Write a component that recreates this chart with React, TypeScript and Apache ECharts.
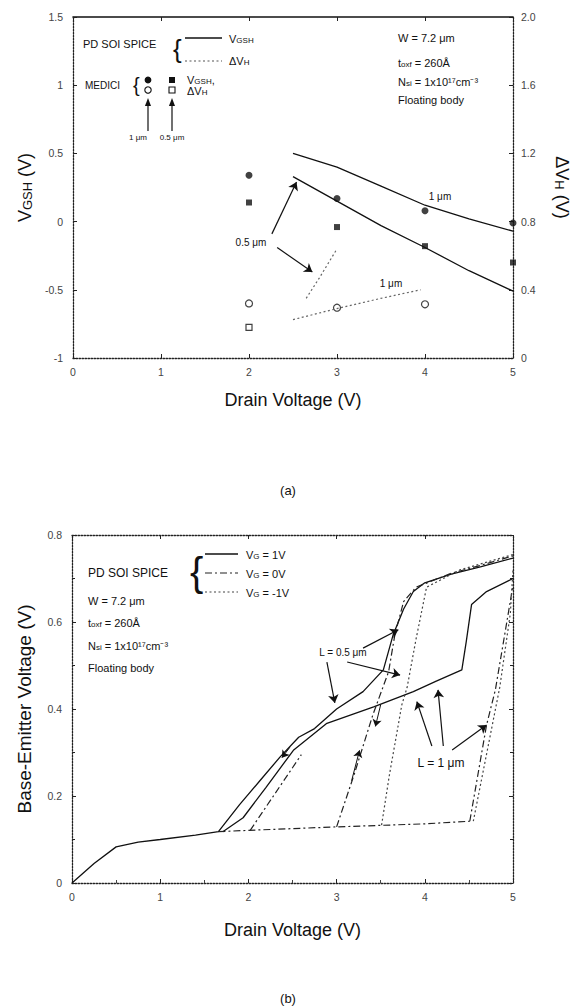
import React, { useEffect, useRef } from "react";
import * as echarts from "echarts";

const FONT = '"Liberation Sans", Arial, Helvetica, sans-serif';

// ---------------- (a) data ----------------
const drainTicks = [0, 1, 2, 3, 4, 5];
const vgshRange = [-1, 1.5];
const dvhRange = [0, 2.0];

// PD SOI SPICE, V_GSH (left axis)
const vgshSpice1um = [[2.5, 0.5], [3, 0.4], [3.5, 0.26], [4, 0.12], [4.5, 0.02], [5, -0.07]];
const vgshSpice05um = [[2.5, 0.33], [3, 0.15], [3.5, -0.03], [4, -0.19], [4.5, -0.36], [5, -0.51]];
// PD SOI SPICE, dV_H (right axis)
const dvhSpice1um = [[2.5, 0.225], [3, 0.29], [3.5, 0.35], [3.95, 0.4]];
const dvhSpice05um = [[2.65, 0.35], [2.8, 0.47], [3, 0.64]];
// MEDICI
const vgshMedici1um = [[2, 0.34], [3, 0.17], [4, 0.08], [5, -0.01]];
const vgshMedici05um = [[2, 0.14], [3, -0.04], [4, -0.18], [5, -0.3]];
const dvhMedici1um = [[2, 0.32], [3, 0.295], [4, 0.315]];
const dvhMedici05um = [[2, 0.18]];
// annotation arrows (data coords, left axis)
const arrowsA = [
  [[2.26, -0.09], [2.54, 0.29]],
  [[2.32, -0.19], [2.72, -0.37]],
];

// ---------------- (b) data ----------------
const vbeRange = [0, 0.8];
// V_G = 1V (solid)
const vbeVg1L05 = [[0, 0], [0.25, 0.045], [0.5, 0.083], [0.75, 0.094], [1, 0.1], [1.4, 0.11], [1.66, 0.118], [1.9, 0.18], [2.13, 0.235], [2.36, 0.29], [2.57, 0.335], [2.75, 0.355], [3, 0.4], [3.3, 0.44], [3.53, 0.49], [3.64, 0.57], [3.76, 0.63], [3.87, 0.67], [4, 0.69], [4.3, 0.71], [4.63, 0.727], [5, 0.747]];
const vbeVg1L1 = [[1.71, 0.118], [1.94, 0.15], [2.2, 0.22], [2.51, 0.305], [2.89, 0.367], [3.42, 0.405], [3.87, 0.44], [4.13, 0.464], [4.42, 0.49], [4.47, 0.555], [4.53, 0.64], [4.7, 0.67], [5, 0.7]];
// V_G = 0V (dash-dot)
const vbeVg0Low = [[1.66, 0.118], [2, 0.121], [3, 0.129], [4, 0.136], [4.51, 0.142]];
const vbeVg0L05 = [[3, 0.129], [3.2, 0.25], [3.41, 0.386], [3.59, 0.486], [3.66, 0.57], [3.76, 0.647], [3.9, 0.68], [4.3, 0.712], [4.63, 0.73], [5, 0.752]];
const vbeVg0L05Rev = [[2.02, 0.121], [2.2, 0.175], [2.4, 0.235], [2.6, 0.295]];
const vbeVg0L1 = [[4.51, 0.142], [4.7, 0.363], [4.8, 0.444], [4.93, 0.6], [5, 0.685]];
// V_G = -1V (dotted)
const vbeVgm1L05 = [[3.51, 0.133], [3.6, 0.25], [3.74, 0.41], [3.8, 0.45], [3.9, 0.56], [4.02, 0.68], [4.4, 0.72], [5, 0.755]];
const vbeVgm1L1 = [[4.55, 0.142], [4.85, 0.45], [4.97, 0.62], [5, 0.72]];
// annotation arrows (data coords)
const arrowsB = [
  [[3.3, 0.54], [3.7, 0.582]],
  [[3.12, 0.508], [3.72, 0.478]],
  [[2.89, 0.508], [2.98, 0.414]],
  [[4.08, 0.315], [3.91, 0.417]],
  [[4.21, 0.315], [4.15, 0.444]],
  [[4.31, 0.306], [4.7, 0.363]],
];
const sweepArrowsB = [
  [[2.47, 0.312], [2.38, 0.288]],
  [[3.17, 0.235], [3.26, 0.305]],
  [[3.5, 0.41], [3.44, 0.36]],
];

const solid = { type: "solid", width: 1.3, color: "#111" };
const dashDot = { type: [7, 3, 2, 3], width: 1.2, color: "#222" };
const dotted = { type: [2, 2.5], width: 1.2, color: "#444" };
const dotAxis = { type: [1.5, 1.5], width: 1.3, color: "#222" };

function arrowGraphic(x1: number, y1: number, x2: number, y2: number, head = 7) {
  const a = Math.atan2(y2 - y1, x2 - x1);
  const c = Math.cos(a), s = Math.sin(a);
  const w = head * 0.38;
  return {
    type: "group",
    children: [
      { type: "line", shape: { x1, y1, x2: x2 - c * head * 0.6, y2: y2 - s * head * 0.6 }, style: { stroke: "#111", lineWidth: 1.2 } },
      {
        type: "polygon",
        shape: { points: [[x2, y2], [x2 - c * head + s * w, y2 - s * head - c * w], [x2 - c * head - s * w, y2 - s * head + c * w]] },
        style: { fill: "#111" },
      },
    ],
  };
}

function txt(x: number, y: number, text: string, size = 11, align = "left", rich?: any) {
  return {
    type: "text",
    style: {
      x, y, text,
      font: `${size}px ${FONT}`,
      fill: "#111",
      textAlign: align,
      textVerticalAlign: "middle",
      rich,
    },
  };
}

const sub = (size: number) => ({
  n: { fontSize: size, fontFamily: FONT, color: "#111", verticalAlign: "bottom", lineHeight: size + 2 },
  s: { fontSize: Math.round(size * 0.7), fontFamily: FONT, color: "#111", verticalAlign: "bottom", lineHeight: size + 2 },
});

const tickLabel = { fontSize: 10.5, color: "#444", fontFamily: FONT };

export default function App() {
  const ref = useRef<HTMLDivElement>(null);
  useEffect(() => {
    if (!ref.current) return;
    const chart = echarts.init(ref.current, undefined, { renderer: "svg" });
    const xBase = (grid: number, top: boolean, minor: boolean, name?: string, gap?: number, solidLine?: boolean) => ({
      type: "value",
      gridIndex: grid,
      position: top ? "top" : "bottom",
      min: drainTicks[0],
      max: drainTicks[drainTicks.length - 1],
      interval: 1,
      name: name || "",
      nameLocation: "middle",
      nameGap: gap || 30,
      nameTextStyle: { fontSize: 18, fontFamily: FONT, color: "#111" },
      axisLine: { show: true, onZero: false, lineStyle: solidLine ? { type: "solid", width: 1.6, color: "#111" } : dotAxis },
      axisTick: { show: true, inside: true, length: 4, lineStyle: { color: "#222" } },
      minorTick: { show: minor, splitNumber: 2, length: 3, lineStyle: { color: "#444" } },
      axisLabel: { show: !top, margin: 8, ...tickLabel },
      splitLine: { show: false },
    });

    const option: any = {
      animation: false,
      backgroundColor: "#fff",
      grid: [
        { left: 73, top: 17, width: 440, height: 341 },
        { left: 72, top: 535, width: 441, height: 348 },
      ],
      xAxis: [
        xBase(0, false, false, "Drain Voltage (V)", 33),
        xBase(0, true, false, undefined, undefined, true),
        xBase(1, false, true, "Drain Voltage (V)", 38),
        xBase(1, true, false),
      ],
      yAxis: [
        {
          type: "value", gridIndex: 0, position: "left", min: vgshRange[0], max: vgshRange[1], interval: 0.5,
          name: "{n|V}{s|GSH}{n| (V)}", nameLocation: "middle", nameGap: 36,
          nameTextStyle: { rich: sub(18) },
          axisLine: { show: true, onZero: false, lineStyle: dotAxis },
          axisTick: { show: true, inside: true, length: 4 },
          axisLabel: { margin: 10, ...tickLabel },
          splitLine: { show: false },
        },
        {
          type: "value", gridIndex: 0, position: "right", min: dvhRange[0], max: dvhRange[1], interval: 0.4,
          name: "{n|ΔV}{s|H}{n| (V)}", nameLocation: "middle", nameGap: 40, nameRotate: -90,
          nameTextStyle: { rich: sub(18) },
          axisLine: { show: true, onZero: false, lineStyle: dotAxis },
          axisTick: { show: true, inside: true, length: 4 },
          axisLabel: { margin: 8, ...tickLabel, formatter: (v: number) => (v === 0 ? "0" : v.toFixed(1)) },
          splitLine: { show: false },
        },
        {
          type: "value", gridIndex: 1, position: "left", min: vbeRange[0], max: vbeRange[1], interval: 0.2,
          name: "Base-Emitter Voltage (V)", nameLocation: "middle", nameGap: 38,
          nameTextStyle: { fontSize: 19, fontFamily: FONT, color: "#111" },
          axisLine: { show: true, onZero: false, lineStyle: dotAxis },
          axisTick: { show: true, inside: true, length: 4 },
          minorTick: { show: true, splitNumber: 2, length: 3 },
          axisLabel: { margin: 10, ...tickLabel },
          splitLine: { show: false },
        },
        {
          type: "value", gridIndex: 1, position: "right", min: vbeRange[0], max: vbeRange[1], interval: 0.2,
          axisLine: { show: true, onZero: false, lineStyle: dotAxis },
          axisTick: { show: true, inside: true, length: 4 },
          minorTick: { show: true, splitNumber: 2, length: 3 },
          axisLabel: { show: false },
          splitLine: { show: false },
        },
      ],
      series: [
        // ---- (a) ----
        {
          type: "line", xAxisIndex: 0, yAxisIndex: 0, data: vgshSpice1um, showSymbol: false, lineStyle: solid, silent: true,
          markLine: {
            silent: true, symbol: ["none", "arrow"], symbolSize: 8, label: { show: false },
            lineStyle: { type: "solid", color: "#111", width: 1.2 },
            data: arrowsA.map(([p, q]) => [{ coord: p }, { coord: q }]),
          },
        },
        { type: "line", xAxisIndex: 0, yAxisIndex: 0, data: vgshSpice05um, showSymbol: false, lineStyle: solid, silent: true },
        { type: "line", xAxisIndex: 0, yAxisIndex: 1, data: dvhSpice1um, showSymbol: false, lineStyle: { ...dotted, color: "#666" }, silent: true },
        { type: "line", xAxisIndex: 0, yAxisIndex: 1, data: dvhSpice05um, showSymbol: false, lineStyle: { ...dotted, color: "#666" }, silent: true },
        { type: "scatter", xAxisIndex: 0, yAxisIndex: 0, data: vgshMedici1um, symbol: "circle", symbolSize: 7, itemStyle: { color: "#111" }, clip: false, silent: true },
        { type: "scatter", xAxisIndex: 0, yAxisIndex: 0, data: vgshMedici05um, symbol: "rect", symbolSize: 6, itemStyle: { color: "#111" }, clip: false, silent: true },
        { type: "scatter", xAxisIndex: 0, yAxisIndex: 1, data: dvhMedici1um, symbol: "circle", symbolSize: 7, itemStyle: { color: "#fff", borderColor: "#111", borderWidth: 1.2 }, clip: false, silent: true },
        { type: "scatter", xAxisIndex: 0, yAxisIndex: 1, data: dvhMedici05um, symbol: "rect", symbolSize: 6, itemStyle: { color: "#fff", borderColor: "#111", borderWidth: 1.2 }, clip: false, silent: true },
        // ---- (b) ----
        {
          type: "line", xAxisIndex: 2, yAxisIndex: 2, data: vbeVg1L05, showSymbol: false, lineStyle: solid, silent: true,
          markLine: {
            silent: true, symbol: ["none", "arrow"], symbolSize: 8, label: { show: false },
            lineStyle: { type: "solid", color: "#111", width: 1.2 },
            data: arrowsB.map(([p, q]) => [{ coord: p }, { coord: q }]),
          },
        },
        {
          type: "line", xAxisIndex: 2, yAxisIndex: 2, data: vbeVg1L1, showSymbol: false, lineStyle: solid, silent: true,
          markLine: {
            silent: true, symbol: ["none", "arrow"], symbolSize: 7, label: { show: false },
            lineStyle: { type: "solid", color: "#111", width: 1 },
            data: sweepArrowsB.map(([p, q]) => [{ coord: p }, { coord: q }]),
          },
        },
        { type: "line", xAxisIndex: 2, yAxisIndex: 2, data: vbeVg0Low, showSymbol: false, lineStyle: dashDot, silent: true },
        { type: "line", xAxisIndex: 2, yAxisIndex: 2, data: vbeVg0L05, showSymbol: false, lineStyle: dashDot, silent: true },
        { type: "line", xAxisIndex: 2, yAxisIndex: 2, data: vbeVg0L05Rev, showSymbol: false, lineStyle: dashDot, silent: true },
        { type: "line", xAxisIndex: 2, yAxisIndex: 2, data: vbeVg0L1, showSymbol: false, lineStyle: dashDot, silent: true },
        { type: "line", xAxisIndex: 2, yAxisIndex: 2, data: vbeVgm1L05, showSymbol: false, lineStyle: dotted, silent: true },
        { type: "line", xAxisIndex: 2, yAxisIndex: 2, data: vbeVgm1L1, showSymbol: false, lineStyle: dotted, silent: true },
      ],
      graphic: [
        // ---- (a) legend ----
        txt(83, 44, "PD SOI SPICE", 11),
        txt(173, 49, "{", 26),
        { type: "line", shape: { x1: 185, y1: 38, x2: 222, y2: 38 }, style: { stroke: "#111", lineWidth: 1.3 } },
        { type: "line", shape: { x1: 185, y1: 61, x2: 222, y2: 61 }, style: { stroke: "#555", lineWidth: 1.2, lineDash: [2, 2.5] } },
        txt(229, 38, "{n|V}{s|GSH}", 11, "left", sub(11)),
        txt(229, 60, "{n|ΔV}{s|H}", 11, "left", sub(11)),
        txt(85, 85, "MEDICI", 10),
        txt(133, 85, "{", 20),
        { type: "circle", shape: { cx: 148, cy: 80, r: 3.4 }, style: { fill: "#111" } },
        { type: "rect", shape: { x: 169, y: 77, width: 6, height: 6 }, style: { fill: "#111" } },
        txt(187, 79, "{n|V}{s|GSH}{n|,}", 11, "left", sub(11)),
        { type: "circle", shape: { cx: 148, cy: 90, r: 3.2 }, style: { fill: "#fff", stroke: "#111", lineWidth: 1.1 } },
        { type: "rect", shape: { x: 169, y: 87, width: 6, height: 6 }, style: { fill: "#fff", stroke: "#111", lineWidth: 1.1 } },
        txt(187, 90, "{n|ΔV}{s|H}", 11, "left", sub(11)),
        arrowGraphic(148, 131, 148, 98, 8),
        arrowGraphic(172, 131, 172, 98, 8),
        txt(138, 137, "1 μm", 8, "center"),
        txt(172, 137, "0.5 μm", 8, "center"),
        txt(398, 38, "W = 7.2 μm", 11),
        txt(398, 62, "{n|t}{s|oxf}{n| = 260Å}", 11, "left", sub(11)),
        txt(398, 81, "{n|N}{s|si}{n| = 1x10¹⁷cm⁻³}", 11, "left", sub(11)),
        txt(398, 100, "Floating body", 11),
        txt(251, 242, "0.5 μm", 10, "center"),
        txt(440, 196, "1 μm", 10, "center"),
        txt(391, 283, "1 μm", 10, "center"),
        txt(288, 490, "(a)", 13, "center"),
        // ---- (b) legend ----
        txt(88, 573, "PD SOI SPICE", 12),
        txt(190, 572, "{", 40),
        { type: "line", shape: { x1: 205, y1: 554, x2: 238, y2: 554 }, style: { stroke: "#111", lineWidth: 1.3 } },
        { type: "line", shape: { x1: 205, y1: 573, x2: 238, y2: 573 }, style: { stroke: "#222", lineWidth: 1.2, lineDash: [7, 3, 2, 3] } },
        { type: "line", shape: { x1: 205, y1: 592, x2: 238, y2: 592 }, style: { stroke: "#444", lineWidth: 1.2, lineDash: [2, 2.5] } },
        txt(246, 554, "{n|V}{s|G}{n| = 1V}", 11, "left", sub(11)),
        txt(246, 573, "{n|V}{s|G}{n| = 0V}", 11, "left", sub(11)),
        txt(246, 592, "{n|V}{s|G}{n| = -1V}", 11, "left", sub(11)),
        txt(88, 601, "W = 7.2 μm", 11),
        txt(88, 622, "{n|t}{s|oxf}{n| = 260Å}", 11, "left", sub(11)),
        txt(88, 645, "{n|N}{s|si}{n| = 1x10¹⁷cm⁻³}", 11, "left", sub(11)),
        txt(88, 668, "Floating body", 11),
        txt(343, 652, "L = 0.5 μm", 10, "center"),
        txt(441, 763, "L = 1 μm", 12, "center"),
        txt(288, 998, "(b)", 13, "center"),
      ],
    };
    chart.setOption(option);
    return () => chart.dispose();
  }, []);
  return <div ref={ref} style={{ position: "absolute", left: 0, top: 0, width: 581, height: 1008, background: "#fff" }} />;
}
